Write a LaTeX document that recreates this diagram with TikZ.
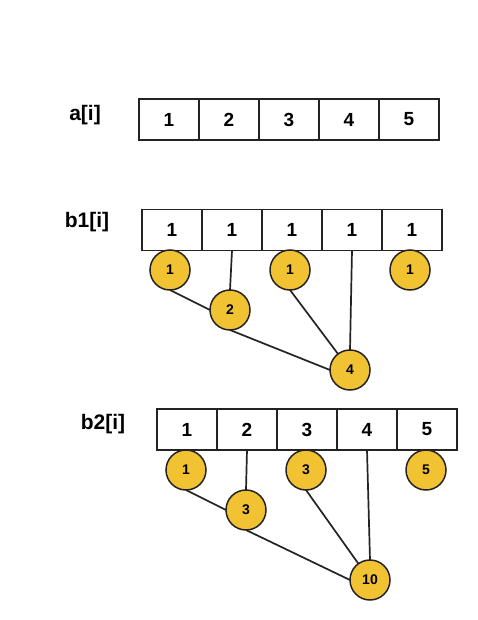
\documentclass[tikz,border=0pt]{standalone}
\usepackage{fontspec}
\setmainfont{Liberation Sans}
\usepackage{tikz}
\usepackage{xcolor}
\definecolor{gold}{RGB}{241,194,50}
\definecolor{edge}{RGB}{35,35,35}
\tikzset{
  cell/.style={draw=edge, line width=1.6pt, minimum width=60pt, minimum height=41pt,
    inner sep=0pt, outer sep=0pt, font=\fontsize{19}{19}\selectfont\bfseries},
  sum/.style={circle, draw=edge, line width=1.5pt, fill=gold, minimum size=40pt,
    inner sep=0pt, outer sep=0pt, font=\fontsize{14}{14}\selectfont\bfseries},
  link/.style={draw=edge, line width=1.7pt},
  arrlab/.style={font=\fontsize{21}{21}\selectfont\bfseries}
}
\begin{document}
\begin{tikzpicture}[x=1pt,y=-1pt]
\useasboundingbox (0,0) rectangle (478,620);

% a[i]
\node[arrlab] (la) at (85,115) {a[i]};
\foreach \v [count=\i] in {1,2,3,4,5}{
  \node[cell] (a\i) at ({109+60*\i},119.5) {\v};
}

% b1[i]
\node[arrlab] (lp) at (87,222) {b1[i]};
\foreach \i in {1,...,5}{
  \node[cell] (p\i) at ({112+60*\i},230) {1};
}
\node[sum] (sp1) at (170,270) {1};
\node[sum] (sp2) at (230,310) {2};
\node[sum] (sp3) at (290,270) {1};
\node[sum] (sp4) at (350,370) {4};
\node[sum] (sp5) at (410,270) {1};
\draw[link] (p2.south) -- (sp2.north);
\draw[link] (p4.south) -- (sp4.north);
\draw[link] (sp1.south) -- (sp2.west);
\draw[link] (sp2.south) -- (sp4.west);
\draw[link] (sp3.south) -- (sp4);

% b2[i]
\node[arrlab] (lq) at (103,424) {b2[i]};
\foreach \v [count=\i] in {1,2,3,4,5}{
  \node[cell] (q\i) at ({127+60*\i},429.5) {\v};
}
\node[sum] (sq1) at (186,470) {1};
\node[sum] (sq2) at (246,510) {3};
\node[sum] (sq3) at (306,470) {3};
\node[sum] (sq4) at (370,580) {10};
\node[sum] (sq5) at (426,470) {5};
\draw[link] (q2.south) -- (sq2.north);
\draw[link] (q4.south) -- (sq4.north);
\draw[link] (sq1.south) -- (sq2.west);
\draw[link] (sq2.south) -- (sq4.west);
\draw[link] (sq3.south) -- (sq4);
\end{tikzpicture}
\end{document}
